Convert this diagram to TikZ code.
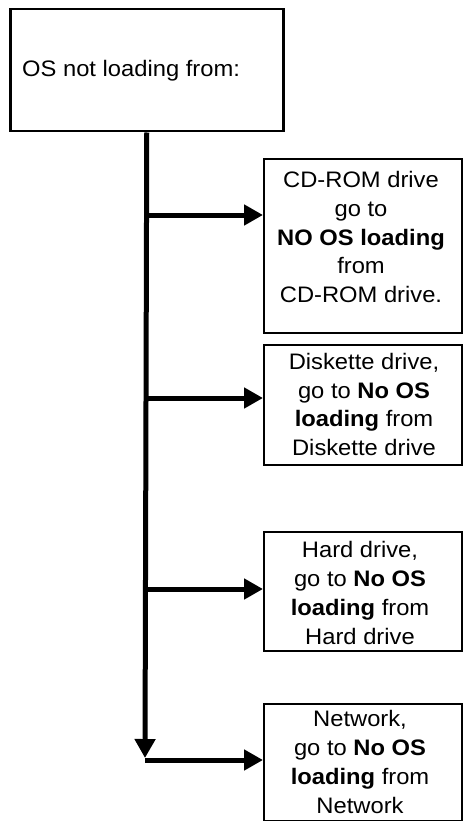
\documentclass[tikz,border=0pt]{standalone}
\usepackage{fontspec}
\setmainfont{Liberation Sans}[FakeStretch=1.06]
\usetikzlibrary{arrows.meta}
\begin{document}
\begin{tikzpicture}[x=1pt,y=-1pt,
  box/.style={draw=black, line width=2pt, rectangle, inner sep=0pt, anchor=north west, fill=white},
  txt/.style={align=center, inner sep=0pt, font=\fontsize{22.4}{28.75}\selectfont},
  trunk/.style={line width=5pt, -{Triangle[length=19pt,width=20pt]}},
  branch/.style={line width=5pt, -{Triangle[length=19pt,width=20pt]}}
]
\useasboundingbox (0,0) rectangle (463,821);
\fill[white] (0,0) rectangle (463,821);

% top box
\node[box, line width=2.5pt, minimum width=273pt, minimum height=122pt] (top) at (9,8) {};
\node[anchor=base west, inner sep=0pt, font=\fontsize{22.4}{26}\selectfont] (toptxt) at (22,77) {OS not loading from:};

% boxes
\node[box, minimum width=198pt, minimum height=174pt] (cd) at (263,158) {};
\node[txt] (cdtxt) at (361,237) {CD-ROM drive\\go to\\\textbf{NO OS loading}\\from\\CD-ROM drive.};

\node[box, minimum width=198pt, minimum height=120pt] (dk) at (263,344) {};
\node[txt] (dktxt) at (364,404.5) {Diskette drive,\\go to \textbf{No OS}\\\textbf{loading} from\\Diskette drive};

\node[box, minimum width=198pt, minimum height=119pt] (hd) at (263,531) {};
\node[txt] (hdtxt) at (360,593) {Hard drive,\\go to \textbf{No OS}\\\textbf{loading} from\\Hard drive};

\node[box, minimum width=198pt, minimum height=117pt] (nw) at (263,703) {};
\node[txt] (nwtxt) at (360,762) {Network,\\go to \textbf{No OS}\\\textbf{loading} from\\Network};

% connectors
\coordinate (j1) at (145,215);
\coordinate (j2) at (145,398);
\coordinate (j3) at (145,589);
\coordinate (j4) at (145,760);
\coordinate (tend) at (145,758);

\draw[trunk] (top.south) -- (tend);
\draw[branch] (j1) -- (j1 -| cd.west);
\draw[branch] (j2) -- (j2 -| dk.west);
\draw[branch] (j3) -- (j3 -| hd.west);
\draw[branch] (j4) -- (j4 -| nw.west);
\end{tikzpicture}
\end{document}
